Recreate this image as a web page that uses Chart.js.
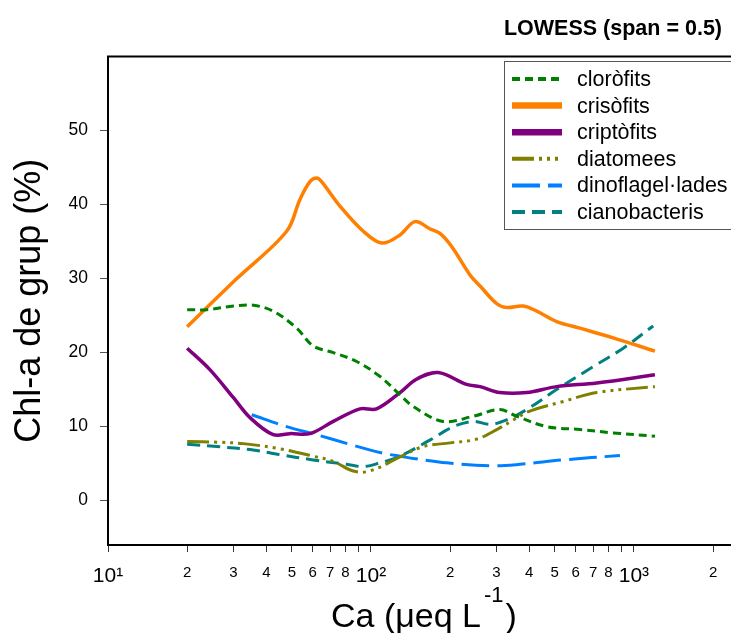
<!DOCTYPE html>
<html>
<head>
<meta charset="utf-8">
<script src="https://cdn.jsdelivr.net/npm/chart.js@4.4.1/dist/chart.umd.min.js"></script>
<style>
  html, body { margin: 0; padding: 0; background: #fff; overflow: hidden; }
  canvas { display: block; }
</style>
</head>
<body>
<canvas id="myChart" width="731" height="633"></canvas>
<script>
// =======================
// Data (LOWESS curves)
// =======================
const caClorofits = [20, 23.7, 30, 35.7, 42.5, 52.2, 60.3, 71.9, 88.2, 108, 129, 145, 188, 245, 309, 358, 466, 623, 834, 1202];
const chlClorofits = [25.8, 25.8, 26.3, 26.4, 25.6, 23.3, 20.9, 20.0, 18.8, 16.8, 14.3, 12.7, 10.7, 11.4, 12.3, 11.4, 10.0, 9.6, 9.15, 8.7];

const caCrisofits = [20, 30.9, 47.8, 53.7, 58.6, 62.2, 64.9, 76.2, 93.5, 110, 129, 147, 168, 183, 203, 238, 260, 301, 328, 380, 427, 508, 623, 834, 1202];
const chlCrisofits = [23.5, 30.0, 36.4, 40.7, 43.1, 43.6, 43.1, 39.8, 36.4, 34.8, 35.9, 37.7, 36.7, 36.1, 34.3, 30.5, 29.0, 26.6, 26.1, 26.3, 25.6, 24.2, 23.3, 22.0, 20.2];

const caCriptofits = [20, 24.4, 30, 34.7, 42.5, 49.2, 58.6, 71.9, 90.8, 105, 129, 149, 180, 231, 260, 309, 391, 508, 722, 1202];
const chlCriptofits = [20.6, 17.7, 13.9, 11.2, 8.9, 9.05, 9.05, 10.7, 12.4, 12.4, 14.6, 16.4, 17.3, 15.7, 15.4, 14.6, 14.6, 15.4, 15.9, 17.0];

const caDiatomees = [20, 25.9, 32.7, 45.1, 60.3, 71.9, 85.6, 99, 129, 158, 200, 252, 301, 348, 402, 539, 722, 1202];
const chlDiatomees = [8.0, 7.9, 7.7, 7.0, 6.0, 5.3, 4.0, 4.0, 5.9, 7.3, 7.8, 8.3, 9.6, 10.9, 12.1, 13.4, 14.6, 15.4];

const caDinoflagelades = [35.2, 47.8, 62.2, 83.2, 111, 129, 145, 194, 292, 369, 539, 885];
const chlDinoflagelades = [11.6, 10.0, 8.9, 7.6, 6.4, 6.0, 5.7, 5.1, 4.7, 4.9, 5.5, 6.1];

const caCianobacteris = [20, 25.9, 34.7, 45.1, 60.3, 80.8, 93.5, 108, 129, 168, 206, 245, 284, 328, 391, 508, 700, 911, 1184];
const chlCianobacteris = [7.6, 7.3, 6.9, 6.2, 5.5, 4.9, 4.6, 5.1, 6.0, 8.2, 10.0, 10.7, 10.3, 10.9, 12.3, 15.0, 18.1, 20.6, 23.6];

// Axis ticks
const xTickValues = [10, 20, 30, 40, 50, 60, 70, 80, 90, 100, 200, 300, 400, 500, 600, 700, 800, 900, 1000, 2000];
const xTickLabels = ['10¹', '2', '3', '4', '5', '6', '7', '8', '', '10²', '2', '3', '4', '5', '6', '7', '8', '', '10³', '2'];
const xDecades = [10, 100, 1000];
const yTickValues = [0, 10, 20, 30, 40, 50];

// Style
const fontFamily = '"Liberation Sans", Arial, sans-serif';
const chartTitle = 'LOWESS (span = 0.5)';
const yTitle = 'Chl-a de grup (%)';

Chart.defaults.font.family = fontFamily;
Chart.defaults.color = '#000';

const toPoints = (xs, ys) => xs.map((x, i) => ({ x: x, y: ys[i] }));

const datasets = [
  { label: 'cloròfits', data: toPoints(caClorofits, chlClorofits),
    borderColor: '#008000', borderWidth: 3, borderDash: [8, 5], legendWidth: 4 },
  { label: 'crisòfits', data: toPoints(caCrisofits, chlCrisofits),
    borderColor: '#FF8000', borderWidth: 3.5, borderDash: [], legendWidth: 6.5 },
  { label: 'criptòfits', data: toPoints(caCriptofits, chlCriptofits),
    borderColor: '#800080', borderWidth: 3.5, borderDash: [], legendWidth: 6.5 },
  { label: 'diatomees', data: toPoints(caDiatomees, chlDiatomees),
    borderColor: '#808000', borderWidth: 3, borderDash: [22, 5, 3, 5, 3, 5, 3, 5], legendWidth: 4 },
  { label: 'dinoflagel·lades', data: toPoints(caDinoflagelades, chlDinoflagelades),
    borderColor: '#0080FF', borderWidth: 3, borderDash: [28, 8], legendWidth: 4 },
  { label: 'cianobacteris', data: toPoints(caCianobacteris, chlCianobacteris),
    borderColor: '#008080', borderWidth: 3, borderDash: [13, 7], legendWidth: 4 }
];
datasets.forEach(d => { d.pointRadius = 0; d.fill = false; d.tension = 0.35; });

// frame top line, title, legend box and x-axis title (superscript)
const framePlugin = {
  id: 'frame',
  afterDraw(chart) {
    const { ctx, chartArea: a } = chart;
    ctx.save();

    ctx.strokeStyle = '#000';
    ctx.lineWidth = 2;
    ctx.setLineDash([]);
    ctx.beginPath();
    ctx.moveTo(a.left - 1, a.top);
    ctx.lineTo(chart.width, a.top);
    ctx.stroke();

    // title
    ctx.fillStyle = '#000';
    ctx.font = 'bold 21.5px ' + fontFamily;
    ctx.textAlign = 'right';
    ctx.textBaseline = 'alphabetic';
    ctx.fillText(chartTitle, 722, 35);

    // legend
    const lx = 504, ly = 61, lh = 168;
    ctx.fillStyle = '#fff';
    ctx.fillRect(lx, ly, chart.width - lx + 5, lh);
    ctx.strokeStyle = '#555';
    ctx.lineWidth = 1;
    ctx.strokeRect(lx + 0.5, ly + 0.5, chart.width - lx + 5, lh);
    ctx.font = '21.5px ' + fontFamily;
    ctx.textAlign = 'left';
    ctx.textBaseline = 'middle';
    chart.data.datasets.forEach((d, i) => {
      const y = 79 + i * 26.6;
      ctx.strokeStyle = d.borderColor;
      ctx.lineWidth = d.legendWidth;
      ctx.setLineDash(d.borderDash);
      ctx.beginPath();
      ctx.moveTo(512, y);
      ctx.lineTo(562, y);
      ctx.stroke();
      ctx.fillStyle = '#000';
      ctx.fillText(d.label, 577, y + 1);
    });
    ctx.setLineDash([]);

    // x-axis title: Ca (μeq L^-1)
    const base = 627;
    let x = 331;
    ctx.textBaseline = 'alphabetic';
    ctx.font = '34px ' + fontFamily;
    ctx.fillText('Ca (μeq L', x, base);
    x += ctx.measureText('Ca (μeq L').width + 3;
    ctx.font = '22px ' + fontFamily;
    ctx.fillText('-1', x, base - 25);
    x += ctx.measureText('-1').width + 2;
    ctx.font = '34px ' + fontFamily;
    ctx.fillText(')', x, base);

    ctx.restore();
  }
};

// =======================
// Chart Configuration
// =======================
const ctx = document.getElementById('myChart').getContext('2d');

new Chart(ctx, {
  type: 'line',
  data: { datasets: datasets },
  options: {
    responsive: false,
    animation: false,
    layout: { padding: { top: 56.6, right: 0, bottom: 0, left: 0 } },
    plugins: {
      legend: { display: false },
      title: { display: false },
      tooltip: { enabled: false }
    },
    scales: {
      x: {
        type: 'logarithmic',
        min: 10,
        max: 2340,
        afterBuildTicks: scale => {
          scale.ticks = xTickValues.map(v => ({ value: v }));
        },
        afterFit: scale => { scale.height = 633 - 545; },
        ticks: {
          autoSkip: false,
          maxRotation: 0,
          padding: 12,
          color: '#000',
          callback: (value, index) => xTickLabels[index],
          font: c => ({
            family: fontFamily,
            size: c.tick && xDecades.includes(c.tick.value) ? 21 : 15
          })
        },
        grid: { drawOnChartArea: false, drawTicks: true, tickLength: 7, tickColor: '#333', tickWidth: 1 },
        border: { display: true, color: '#000', width: 2 }
      },
      y: {
        min: -6,
        max: 60,
        afterBuildTicks: scale => {
          scale.ticks = yTickValues.map(v => ({ value: v }));
        },
        afterFit: scale => { scale.width = 108; },
        ticks: {
          padding: 12,
          color: '#000',
          font: { family: fontFamily, size: 17.5 }
        },
        grid: { drawOnChartArea: false, drawTicks: true, tickLength: 8, tickColor: '#555', tickWidth: 1 },
        border: { display: true, color: '#000', width: 2 },
        title: {
          display: true,
          text: yTitle,
          color: '#000',
          font: { family: fontFamily, size: 36, lineHeight: 1.2 },
          padding: { top: 8, bottom: 0 }
        }
      }
    }
  },
  plugins: [framePlugin]
});
</script>
</body>
</html>
